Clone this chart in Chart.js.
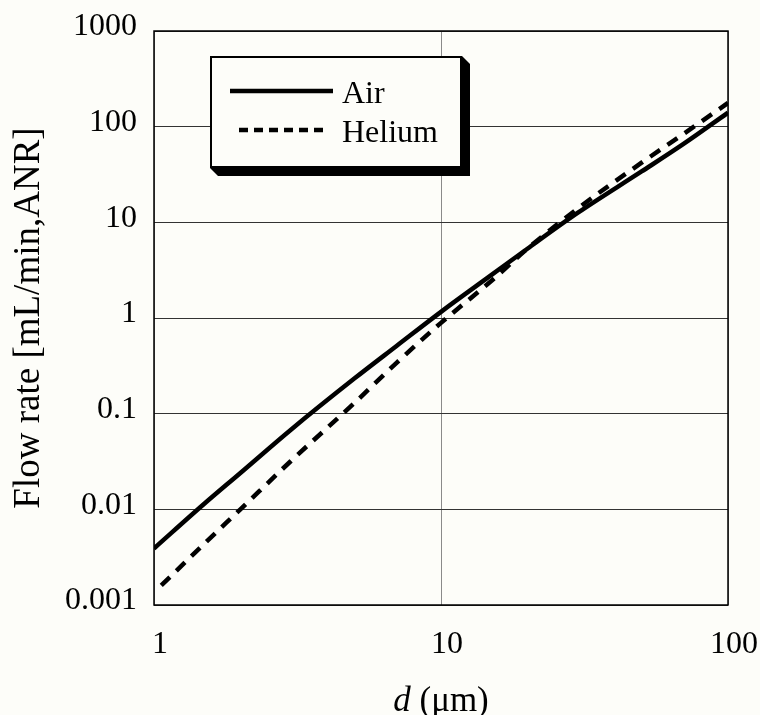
<!DOCTYPE html>
<html>
<head>
<meta charset="utf-8">
<script src="https://cdn.jsdelivr.net/npm/chart.js@4/dist/chart.umd.min.js"></script>
<style>
  html, body { margin: 0; padding: 0; background: #fdfdf9; }
  #wrap { width: 760px; height: 715px; }
</style>
</head>
<body>
<div id="wrap"><canvas id="c" width="760" height="715"></canvas></div>
<script>
// ---- data ----
const seriesNames = ['Air', 'Helium'];
const airD = [1, 1.5, 2, 3, 5, 7, 10, 15, 20, 30, 50, 70, 100];
const airFlow = [0.0039, 0.0115, 0.024, 0.068, 0.234, 0.51, 1.16, 2.82, 5.3, 12.6, 34, 66, 140];
const heliumD = [1.06, 1.5, 2, 3, 5, 7, 10, 15, 20, 30, 50, 70, 100];
const heliumFlow = [0.0016, 0.0044, 0.0100, 0.032, 0.13, 0.34, 0.89, 2.45, 5.3, 14, 42, 84, 177];
const xTicks = [1, 10, 100];
const xTickLabels = ['1', '10', '100'];
const yTicks = [0.001, 0.01, 0.1, 1, 10, 100, 1000];
const yTickLabels = ['0.001', '0.01', '0.1', '1', '10', '100', '1000'];
const xTitleItalic = 'd';
const xTitleRest = ' (\u03bcm)';
const yTitle = 'Flow rate [mL/min,ANR]';

const SERIF = '"Liberation Serif", "Times New Roman", serif';

function toPoints(xs, ys) { return xs.map((x, i) => ({ x: x, y: ys[i] })); }

const frameAndLegend = {
  id: 'frameAndLegend',
  beforeDatasetsDraw(chart) {
    const { ctx, chartArea: a } = chart;
    ctx.save();
    ctx.strokeStyle = '#000';
    ctx.lineWidth = 1.5;
    ctx.strokeRect(a.left, a.top, a.right - a.left, a.bottom - a.top);
    ctx.restore();
  },
  afterDraw(chart) {
    const { ctx } = chart;
    ctx.save();
    // legend shadow
    const L = 210, T = 56, R = 462, B = 168, s = 8;
    ctx.fillStyle = '#000';
    ctx.beginPath();
    ctx.moveTo(R, T);
    ctx.lineTo(R + s, T + s);
    ctx.lineTo(R + s, B + s);
    ctx.lineTo(L + s, B + s);
    ctx.lineTo(L, B);
    ctx.closePath();
    ctx.fill();
    // legend box
    ctx.fillStyle = '#fdfdf9';
    ctx.fillRect(L, T, R - L, B - T);
    ctx.strokeStyle = '#000';
    ctx.lineWidth = 2;
    ctx.strokeRect(L + 1, T + 1, R - L - 2, B - T - 2);
    // entries
    const ds = chart.data.datasets;
    const rows = [{ y: 91, x0: 230, x1: 333, ty: 103 }, { y: 130, x0: 239, x1: 327, ty: 142 }];
    ds.forEach((d, i) => {
      const r = rows[i];
      ctx.strokeStyle = '#000';
      ctx.lineWidth = 4.5;
      ctx.setLineDash(i === 1 ? [9, 6] : []);
      ctx.beginPath();
      ctx.moveTo(r.x0, r.y);
      ctx.lineTo(r.x1, r.y);
      ctx.stroke();
      ctx.setLineDash([]);
      ctx.fillStyle = '#000';
      ctx.font = '32px ' + SERIF;
      ctx.textAlign = 'left';
      ctx.textBaseline = 'alphabetic';
      ctx.fillText(d.label, 342, r.ty);
    });
    // x-axis title with italic d
    const a = chart.chartArea;
    const cx = (a.left + a.right) / 2;
    ctx.font = 'italic 35px ' + SERIF;
    const w1 = ctx.measureText(xTitleItalic).width;
    ctx.font = '35px ' + SERIF;
    const w2 = ctx.measureText(xTitleRest).width;
    let x = cx - (w1 + w2) / 2;
    ctx.font = 'italic 35px ' + SERIF;
    ctx.fillText(xTitleItalic, x, 711);
    ctx.font = '35px ' + SERIF;
    ctx.fillText(xTitleRest, x + w1, 711);
    ctx.restore();
  }
};

new Chart(document.getElementById('c'), {
  type: 'line',
  data: {
    datasets: [
      {
        label: seriesNames[0],
        data: toPoints(airD, airFlow),
        borderColor: '#000',
        borderWidth: 4.5,
        pointRadius: 0,
        fill: false,
        cubicInterpolationMode: 'monotone'
      },
      {
        label: seriesNames[1],
        data: toPoints(heliumD, heliumFlow),
        borderColor: '#000',
        borderWidth: 4.5,
        borderDash: [12, 9],
        pointRadius: 0,
        fill: false,
        cubicInterpolationMode: 'monotone'
      }
    ]
  },
  options: {
    responsive: false,
    animation: false,
    events: [],
    layout: { padding: { top: 31, right: 32, left: 0, bottom: 0 } },
    plugins: { legend: { display: false }, tooltip: { enabled: false } },
    scales: {
      x: {
        type: 'logarithmic',
        min: 1, max: 100,
        afterBuildTicks: s => { s.ticks = xTicks.map(v => ({ value: v, major: true })); },
        afterFit: s => { s.height = 110; s.paddingLeft = 0; s.paddingRight = 0; },
        grid: { color: '#8a8a8a', lineWidth: 1, drawTicks: false },
        border: { display: false },
        ticks: {
          color: '#000',
          font: { family: SERIF, size: 32 },
          padding: 20,
          labelOffset: 6,
          maxRotation: 0,
          autoSkip: false,
          callback: (v, i) => xTickLabels[i]
        },
        title: { display: false }
      },
      y: {
        type: 'logarithmic',
        min: 0.001, max: 1000,
        afterBuildTicks: s => { s.ticks = yTicks.map(v => ({ value: v, major: true })); },
        afterFit: s => { s.width = 154; s.paddingTop = 0; s.paddingBottom = 0; },
        grid: { color: '#333', lineWidth: 1, drawTicks: false },
        border: { display: false },
        ticks: {
          color: '#000',
          font: { family: SERIF, size: 32 },
          padding: 17,
          labelOffset: -4,
          autoSkip: false,
          callback: (v, i) => yTickLabels[i]
        },
        title: {
          display: true,
          text: yTitle,
          color: '#000',
          font: { family: SERIF, size: 37 },
          padding: { top: 7, bottom: 0 }
        }
      }
    }
  },
  plugins: [frameAndLegend]
});
</script>
</body>
</html>
